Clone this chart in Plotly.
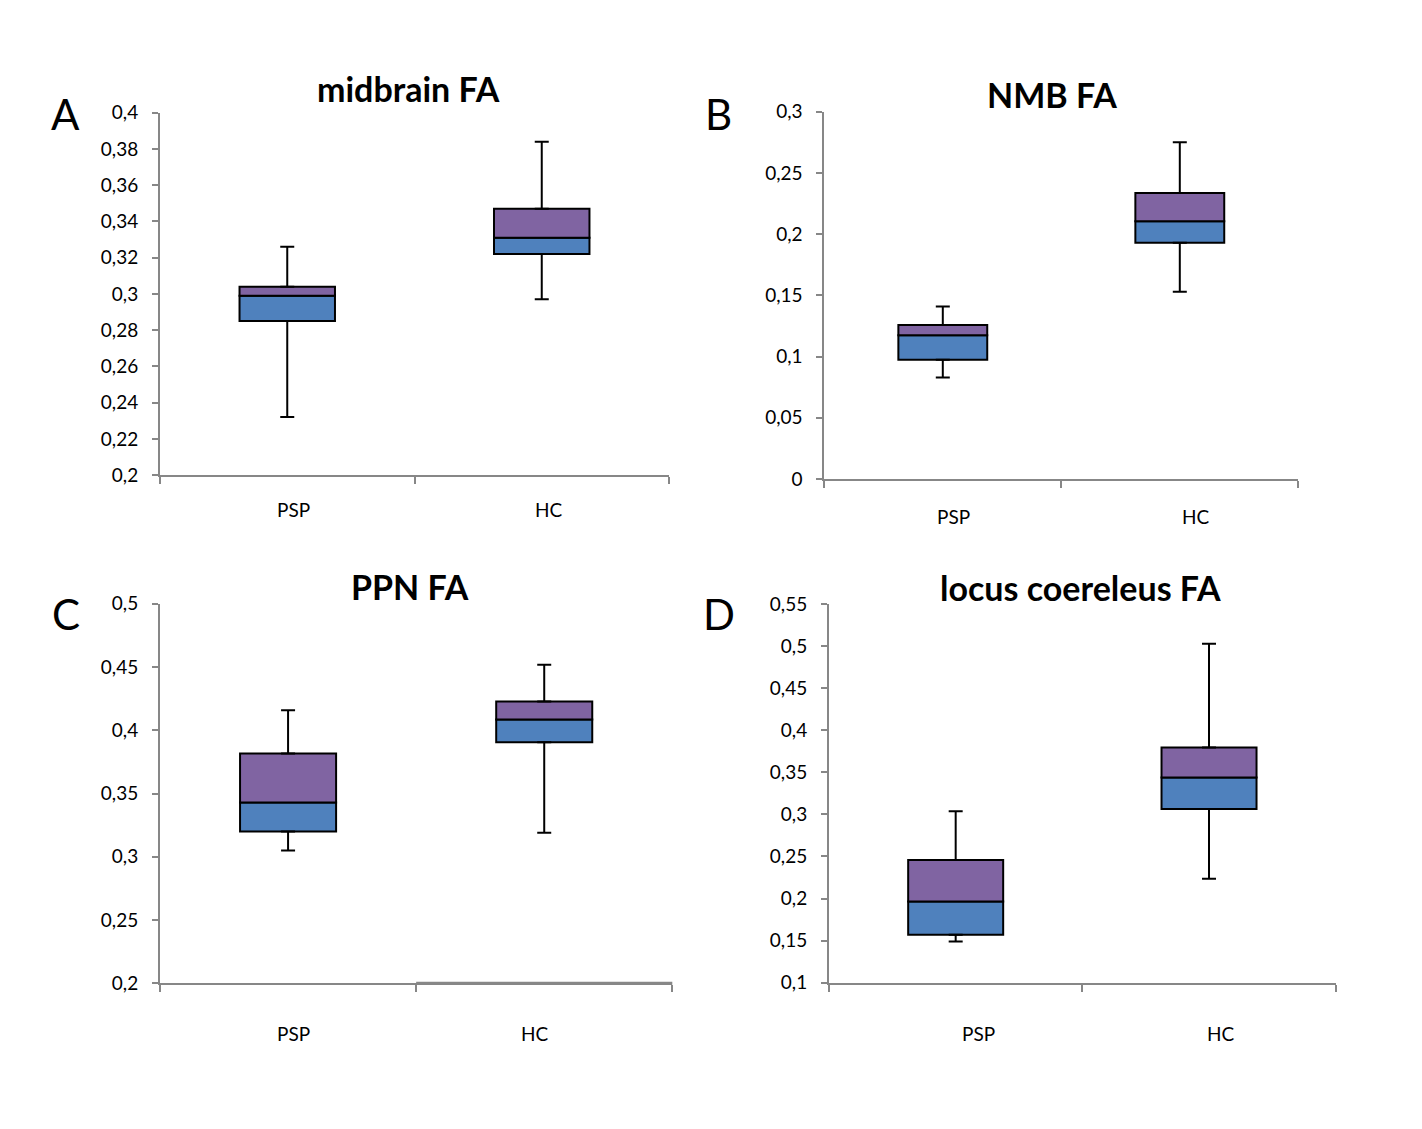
import plotly.graph_objects as go

# page has an 8px body margin; the figure is sized so page == 1422x1129 window
PAGE_W, PAGE_H, BODY = 1422, 1129, 8
W, H = PAGE_W - 2 * BODY, PAGE_H - 2 * BODY

groups = ["PSP", "HC"]
panel_titles = ["midbrain FA", "NMB FA", "PPN FA", "locus coereleus FA"]
panel_letters = ["A", "B", "C", "D"]

# five-number summaries (PSP, HC)
midbrain_min = [0.232, 0.297]
midbrain_q1 = [0.285, 0.322]
midbrain_median = [0.299, 0.331]
midbrain_q3 = [0.304, 0.347]
midbrain_max = [0.326, 0.384]

nmb_min = [0.083, 0.153]
nmb_q1 = [0.0975, 0.193]
nmb_median = [0.1175, 0.2105]
nmb_q3 = [0.1258, 0.2337]
nmb_max = [0.141, 0.275]

ppn_min = [0.305, 0.319]
ppn_q1 = [0.320, 0.3905]
ppn_median = [0.343, 0.4085]
ppn_q3 = [0.3817, 0.4227]
ppn_max = [0.4157, 0.4518]

lc_min = [0.149, 0.2236]
lc_q1 = [0.157, 0.3063]
lc_median = [0.1964, 0.3437]
lc_q3 = [0.2457, 0.3794]
lc_max = [0.3036, 0.5026]

midbrain_ticks = [0.2, 0.22, 0.24, 0.26, 0.28, 0.3, 0.32, 0.34, 0.36, 0.38, 0.4]
midbrain_tick_labels = ["0,2", "0,22", "0,24", "0,26", "0,28", "0,3", "0,32", "0,34", "0,36", "0,38", "0,4"]
nmb_ticks = [0, 0.05, 0.1, 0.15, 0.2, 0.25, 0.3]
nmb_tick_labels = ["0", "0,05", "0,1", "0,15", "0,2", "0,25", "0,3"]
ppn_ticks = [0.2, 0.25, 0.3, 0.35, 0.4, 0.45, 0.5]
ppn_tick_labels = ["0,2", "0,25", "0,3", "0,35", "0,4", "0,45", "0,5"]
lc_ticks = [0.1, 0.15, 0.2, 0.25, 0.3, 0.35, 0.4, 0.45, 0.5, 0.55]
lc_tick_labels = ["0,1", "0,15", "0,2", "0,25", "0,3", "0,35", "0,4", "0,45", "0,5", "0,55"]

panels = [
    dict(mn=midbrain_min, q1=midbrain_q1, med=midbrain_median, q3=midbrain_q3, mx=midbrain_max,
         ticks=midbrain_ticks, labels=midbrain_tick_labels,
         box=(160, 669, 102.7, 472.7), title=(408, 78), letter=(65, 104),
         lab_off=34, lab_shift=[6, 7]),
    dict(mn=nmb_min, q1=nmb_q1, med=nmb_median, q3=nmb_q3, mx=nmb_max,
         ticks=nmb_ticks, labels=nmb_tick_labels,
         box=(824.3, 1298.3, 101.7, 476.7), title=(1052, 84), letter=(718.5, 104),
         lab_off=37, lab_shift=[11, 16]),
    dict(mn=ppn_min, q1=ppn_q1, med=ppn_median, q3=ppn_q3, mx=ppn_max,
         ticks=ppn_ticks, labels=ppn_tick_labels,
         box=(160, 672.3, 604, 991.7), title=(410, 586), letter=(66, 615),
         lab_off=50, lab_shift=[5, -9]),
    dict(mn=lc_min, q1=lc_q1, med=lc_median, q3=lc_q3, mx=lc_max,
         ticks=lc_ticks, labels=lc_tick_labels,
         box=(829, 1335.7, 604.3, 991), title=(1080, 587), letter=(718.7, 615),
         lab_off=51, lab_shift=[23, 12]),
]

BLUE = "#4F81BD"
PURPLE = "#8064A2"
AXIS = "#878787"
FONT = "Lato"

fig = go.Figure()
layout = dict(
    width=W, height=H, margin=dict(l=0, r=0, t=0, b=0),
    paper_bgcolor="white", plot_bgcolor="white", showlegend=False,
    font=dict(family=FONT, color="black"), annotations=[], shapes=[],
)


def px(x):
    return (x - BODY) / W


def py(y):
    return 1 - (y - BODY) / H


for i, p in enumerate(panels):
    n = "" if i == 0 else str(i + 1)
    xa, ya = "x" + n, "y" + n
    lower = [m - q for m, q in zip(p["med"], p["q1"])]
    upper = [q - m for q, m in zip(p["q3"], p["med"])]
    fig.add_trace(go.Bar(x=groups, y=lower, base=p["q1"], width=0.375,
                         marker=dict(color=BLUE, line=dict(color="black", width=2)),
                         xaxis=xa, yaxis=ya))
    fig.add_trace(go.Bar(x=groups, y=upper, base=p["med"], width=0.375,
                         marker=dict(color=PURPLE, line=dict(color="black", width=2)),
                         xaxis=xa, yaxis=ya))
    fig.add_trace(go.Scatter(x=groups, y=p["q3"], mode="markers",
                             marker=dict(size=1, color="rgba(0,0,0,0)"),
                             error_y=dict(type="data", symmetric=False,
                                          array=[a - b for a, b in zip(p["mx"], p["q3"])],
                                          arrayminus=[0, 0], color="black", thickness=2, width=7),
                             xaxis=xa, yaxis=ya))
    fig.add_trace(go.Scatter(x=groups, y=p["q1"], mode="markers",
                             marker=dict(size=1, color="rgba(0,0,0,0)"),
                             error_y=dict(type="data", symmetric=False, array=[0, 0],
                                          arrayminus=[a - b for a, b in zip(p["q1"], p["mn"])],
                                          color="black", thickness=2, width=7),
                             xaxis=xa, yaxis=ya))
    x0, x1, y0, y1 = p["box"]
    layout["xaxis" + n] = dict(
        domain=[px(x0), px(x1)], anchor=ya, type="category",
        showline=True, linecolor=AXIS, linewidth=2, showgrid=False, zeroline=False,
        ticks="outside", tickson="boundaries", ticklen=7, tickcolor=AXIS, tickwidth=2,
        showticklabels=False, fixedrange=True,
    )
    layout["yaxis" + n] = dict(
        domain=[py(y1), py(y0)], anchor=xa, range=[p["ticks"][0], p["ticks"][-1]],
        tickmode="array", tickvals=p["ticks"], ticktext=p["labels"],
        showline=True, linecolor=AXIS, linewidth=2, showgrid=False, zeroline=False,
        ticks="outside", ticklen=6, tickcolor=AXIS, tickwidth=2, ticklabelstandoff=10,
        tickfont=dict(size=19, family=FONT, color="black"), fixedrange=True,
    )
    # category labels under the axis
    for g, sh in zip(groups, p["lab_shift"]):
        layout["annotations"].append(dict(
            text=g, x=g, xref=xa, y=0, yref=ya + " domain",
            xanchor="center", yanchor="middle", yshift=-p["lab_off"], xshift=sh,
            showarrow=False, font=dict(size=19, family=FONT, color="black")))
    tx, ty = p["title"]
    layout["annotations"].append(dict(
        text="<b>" + panel_titles[i] + "</b>", x=px(tx), y=py(ty), xref="paper", yref="paper",
        xanchor="center", yanchor="middle", showarrow=False,
        font=dict(size=34, family=FONT, color="black")))
    lx, ly = p["letter"]
    layout["annotations"].append(dict(
        text=panel_letters[i], x=px(lx), y=py(ly), xref="paper", yref="paper",
        xanchor="center", yanchor="middle", showarrow=False,
        font=dict(size=42, family=FONT, color="black")))

# the right half of panel C's category axis is drawn slightly heavier
layout["shapes"].append(dict(
    type="line", xref="x3 domain", yref="y3 domain", x0=0.5, x1=1, y0=0, y1=0,
    line=dict(color=AXIS, width=3), layer="above"))

layout["barmode"] = "overlay"
fig.update_layout(**layout)
fig.write_html("out.html")
